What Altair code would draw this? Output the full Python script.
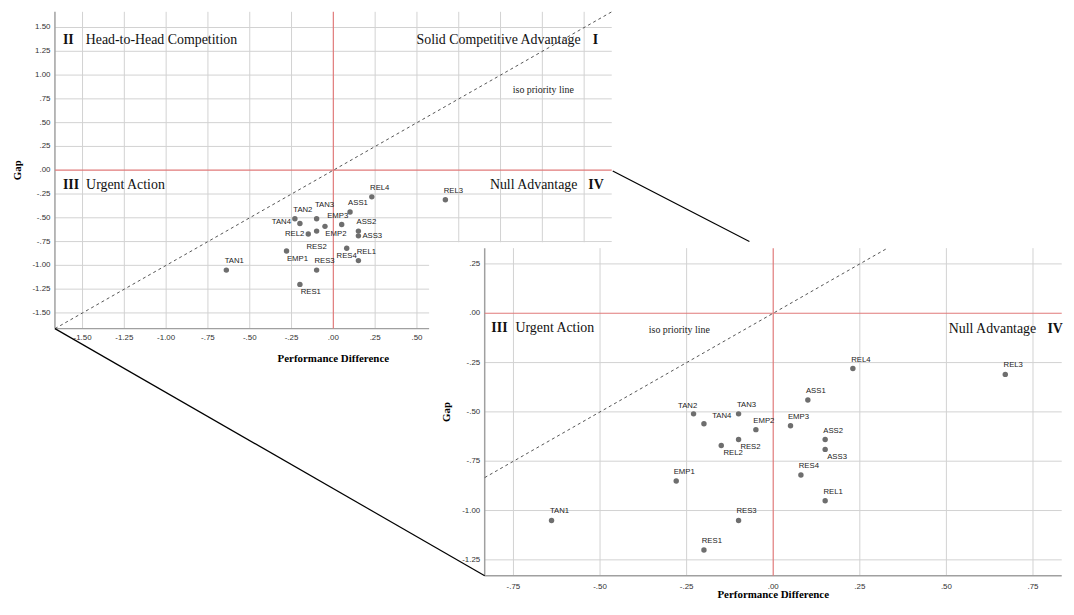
import altair as alt
import pandas as pd

# ---------------- data ----------------
names = ["TAN1", "TAN2", "TAN3", "TAN4",
         "REL1", "REL2", "REL3", "REL4",
         "RES1", "RES2", "RES3", "RES4",
         "ASS1", "ASS2", "ASS3",
         "EMP1", "EMP2", "EMP3"]
performance_difference = [-0.64, -0.23, -0.10, -0.20,
                          0.15, -0.15, 0.67, 0.23,
                          -0.20, -0.10, -0.10, 0.08,
                          0.10, 0.15, 0.15,
                          -0.28, -0.05, 0.05]
gap = [-1.05, -0.51, -0.51, -0.56,
       -0.95, -0.67, -0.31, -0.28,
       -1.20, -0.64, -1.05, -0.82,
       -0.44, -0.64, -0.69,
       -0.85, -0.59, -0.57]

main_ticks = [-1.5, -1.25, -1.0, -0.75, -0.5, -0.25, 0.0, 0.25, 0.5, 0.75, 1.0, 1.25, 1.5]
main_x_tick_labels = [-1.5, -1.25, -1.0, -0.75, -0.5, -0.25, 0.0, 0.25, 0.5]  # the rest sit under the inset
inset_x_ticks = [-0.75, -0.5, -0.25, 0.0, 0.25, 0.5, 0.75]
inset_y_ticks = [0.25, 0.0, -0.25, -0.5, -0.75, -1.0, -1.25]

x_title = "Performance Difference"
y_title = "Gap"
iso_text = "iso priority line"

df = pd.DataFrame({"name": names, "pd": performance_difference, "gap": gap})

# ---------------- layout / style ----------------
W, H = 1066, 594
GRID = "#d2d2d2"
ZERO = "#e07a7a"
AXIS = "#a0a0a0"
POINT = "#6e6e6e"
SANS = "Liberation Sans"
SERIF = "Liberation Serif"

# SPSS-like tick format: .25, -.50, 1.00, -1.25
LABEL_EXPR = ("(datum.t < 0 ? '-' : '') + (abs(datum.t) < 1 ? "
              "replace(format(abs(datum.t), '.2f'), '0.', '.') : "
              "format(abs(datum.t), '.2f'))")

placement = {
    "n": dict(dx=8, dy=-9, align="center"),
    "nn": dict(dx=8, dy=-14, align="center"),
    "nw": dict(dx=-4, dy=-8, align="center"),
    "nl": dict(dx=-6, dy=-8, align="center"),
    "nr": dict(dx=18, dy=-8, align="center"),
    "w": dict(dx=-9, dy=-1, align="right"),
    "w2": dict(dx=-4, dy=0, align="right"),
    "e": dict(dx=4, dy=0, align="left"),
    "se": dict(dx=11, dy=8, align="center"),
    "se2": dict(dx=12, dy=8, align="center"),
    "s": dict(dx=0, dy=8, align="center"),
    "s2": dict(dx=0, dy=16, align="center"),
}
main_label_pos = {"TAN1": "n", "TAN2": "n", "TAN3": "nn", "TAN4": "w",
                  "REL1": "n", "REL2": "w2", "REL3": "n", "REL4": "n",
                  "RES1": "se", "RES2": "s2", "RES3": "n", "RES4": "s",
                  "ASS1": "n", "ASS2": "n", "ASS3": "e",
                  "EMP1": "se", "EMP2": "se", "EMP3": "nw"}
inset_label_pos = {"TAN1": "n", "TAN2": "nl", "TAN3": "n", "TAN4": "nr",
                   "REL1": "n", "REL2": "se2", "REL3": "n", "REL4": "n",
                   "RES1": "n", "RES2": "se2", "RES3": "n", "RES4": "n",
                   "ASS1": "n", "ASS2": "n", "ASS3": "se2",
                   "EMP1": "n", "EMP2": "n", "EMP3": "n"}

main_cfg = dict(
    xdom=[-1.665, 1.665], ydom=[-1.665, 1.665],
    xrng=[47.3, 608.3], yrng=[320.8, 1.6],
    xticks=main_ticks, yticks=main_ticks,
    xlabels=main_x_tick_labels, ylabels=main_ticks,
    label_pos=main_label_pos,
    xlab_dy=9.5, ylab_dx=-4.5, xtitle_dy=31, ytitle_off=37.7,
    quads=[("II", "lo", 8, "hi", 28.7, "left", True),
           ("Head-to-Head Competition", "lo", 31, "hi", 28.7, "left", False),
           ("Solid Competitive Advantage", "hi", -31.3, "hi", 28.7, "right", False),
           ("I", "hi", -16.3, "hi", 28.7, "center", True),
           ("III", "lo", 8, "zero", 15.1, "left", True),
           ("Urgent Action", "lo", 31.4, "zero", 15.1, "left", False),
           ("Null Advantage", "hi", -34.6, "zero", 15.1, "right", False),
           ("IV", "hi", -15.8, "zero", 15.1, "center", True)],
    iso_at=(1.256, 0.845),
)
inset_cfg = dict(
    xdom=[-0.833, 0.833], ydom=[-1.33, 0.33],
    xrng=[480.3, 1061.7], yrng=[569.7, 239.7],
    xticks=inset_x_ticks, yticks=inset_y_ticks,
    xlabels=inset_x_ticks, ylabels=inset_y_ticks,
    label_pos=inset_label_pos,
    xlab_dy=11, ylab_dx=-4.5, xtitle_dy=20, ytitle_off=37.6,
    quads=[("III", "lo", 6.7, "zero", 15.1, "left", True),
           ("Urgent Action", "lo", 31, "zero", 15.1, "left", False),
           ("Null Advantage", "hi", -25.7, "zero", 16, "right", False),
           ("IV", "hi", -6.7, "zero", 16, "center", True)],
    iso_at=(-0.271, -0.085),
)


def panel(cfg, background=None):
    xs = alt.Scale(domain=cfg["xdom"], range=cfg["xrng"], nice=False, zero=False)
    ys = alt.Scale(domain=cfg["ydom"], range=cfg["yrng"], nice=False, zero=False)
    x0, x1 = cfg["xdom"]
    y0, y1 = cfg["ydom"]
    one = pd.DataFrame({"k": [0]})
    layers = []
    if background is not None:
        layers.append(background)

    def XD(v):
        return alt.XDatum(v, type="quantitative", scale=xs, axis=None)

    def YD(v):
        return alt.YDatum(v, type="quantitative", scale=ys, axis=None)

    # grid lines
    layers.append(alt.Chart(pd.DataFrame({"t": [t for t in cfg["xticks"] if t != 0]}))
                  .mark_rule(color=GRID, strokeWidth=1)
                  .encode(x=alt.X("t:Q", scale=xs, axis=None), y=YD(y0), y2=alt.Y2Datum(y1)))
    layers.append(alt.Chart(pd.DataFrame({"t": [t for t in cfg["yticks"] if t != 0]}))
                  .mark_rule(color=GRID, strokeWidth=1)
                  .encode(y=alt.Y("t:Q", scale=ys, axis=None), x=XD(x0), x2=alt.X2Datum(x1)))
    # axis lines
    layers.append(alt.Chart(one).mark_rule(color=AXIS, strokeWidth=1.5)
                  .encode(x=XD(x0), x2=alt.X2Datum(x1), y=YD(y0)))
    layers.append(alt.Chart(one).mark_rule(color=AXIS, strokeWidth=1.5)
                  .encode(y=YD(y0), y2=alt.Y2Datum(y1), x=XD(x0)))
    # tick labels
    layers.append(alt.Chart(pd.DataFrame({"t": cfg["xlabels"]}))
                  .transform_calculate(lab=LABEL_EXPR)
                  .mark_text(font=SANS, fontSize=8, color="#333333", baseline="middle",
                             align="center", dy=cfg["xlab_dy"])
                  .encode(x=alt.X("t:Q", scale=xs, axis=None), y=YD(y0), text="lab:N"))
    layers.append(alt.Chart(pd.DataFrame({"t": cfg["ylabels"]}))
                  .transform_calculate(lab=LABEL_EXPR)
                  .mark_text(font=SANS, fontSize=8, color="#333333", baseline="middle",
                             align="right", dx=cfg["ylab_dx"])
                  .encode(y=alt.Y("t:Q", scale=ys, axis=None), x=XD(x0), text="lab:N"))
    # axis titles
    layers.append(alt.Chart(one)
                  .mark_text(text=x_title, font=SERIF, fontSize=11, fontWeight="bold",
                             color="#000000", align="center", baseline="middle",
                             dy=cfg["xtitle_dy"])
                  .encode(x=XD((x0 + x1) / 2), y=YD(y0)))
    # rotated title: offsets act in the rotated frame, so dy moves it sideways
    layers.append(alt.Chart(one)
                  .mark_text(text=y_title, font=SERIF, fontSize=11, fontWeight="bold",
                             color="#000000", align="center", baseline="middle",
                             angle=270, dy=-cfg["ytitle_off"])
                  .encode(x=XD(x0), y=YD((y0 + y1) / 2)))
    # zero lines
    layers.append(alt.Chart(pd.DataFrame({"t": [0.0]}))
                  .mark_rule(color=ZERO, strokeWidth=1.2)
                  .encode(x=alt.X("t:Q", scale=xs, axis=None), y=YD(y0), y2=alt.Y2Datum(y1)))
    layers.append(alt.Chart(pd.DataFrame({"t": [0.0]}))
                  .mark_rule(color=ZERO, strokeWidth=1.2)
                  .encode(y=alt.Y("t:Q", scale=ys, axis=None), x=XD(x0), x2=alt.X2Datum(x1)))
    # iso priority line y = x
    lo, hi = max(x0, y0), min(x1, y1)
    layers.append(alt.Chart(one).mark_rule(color="#555555", strokeWidth=1, strokeDash=[3, 3])
                  .encode(x=XD(lo), y=YD(lo), x2=alt.X2Datum(hi), y2=alt.Y2Datum(hi)))
    # points
    layers.append(alt.Chart(df).mark_circle(size=30, color=POINT, opacity=1)
                  .encode(x=alt.X("pd:Q", scale=xs, axis=None),
                          y=alt.Y("gap:Q", scale=ys, axis=None)))
    # point labels
    codes = sorted(set(cfg["label_pos"].values()))
    for c in codes:
        members = [n for n in names if cfg["label_pos"][n] == c]
        st = placement[c]
        layers.append(alt.Chart(df)
                      .transform_filter(alt.FieldOneOfPredicate(field="name", oneOf=members))
                      .mark_text(font=SANS, fontSize=7.8, color="#222222", baseline="middle",
                                 align=st["align"], dx=st["dx"], dy=st["dy"])
                      .encode(x=alt.X("pd:Q", scale=xs, axis=None),
                              y=alt.Y("gap:Q", scale=ys, axis=None),
                              text="name:N"))
    # quadrant labels
    for txt, xa, dx, ya, dy, align, bold in cfg["quads"]:
        xv = x0 if xa == "lo" else x1
        yv = y1 if ya == "hi" else 0.0
        layers.append(alt.Chart(one)
                      .mark_text(text=txt, font=SERIF, fontSize=14, color="#111111",
                                 fontWeight="bold" if bold else "normal",
                                 align=align, baseline="middle", dx=dx, dy=dy)
                      .encode(x=XD(xv), y=YD(yv)))
    # iso priority label
    layers.append(alt.Chart(one)
                  .mark_text(text=iso_text, font=SERIF, fontSize=10, color="#222222",
                             align="center", baseline="middle")
                  .encode(x=XD(cfg["iso_at"][0]), y=YD(cfg["iso_at"][1])))
    return alt.layer(*layers)


one_row = pd.DataFrame({"k": [0]})
inset_bg = alt.Chart(one_row).mark_rect(color="white").encode(
    x=alt.value(inset_cfg["xrng"][0] - 56), x2=alt.value(W),
    y=alt.value(inset_cfg["yrng"][1] - 6), y2=alt.value(H))

main_panel = panel(main_cfg)
inset_panel = panel(inset_cfg, background=inset_bg)

# zoom connector lines (decorative)
conn1 = alt.Chart(one_row).mark_rule(color="#000000", strokeWidth=1.2).encode(
    x=alt.value(main_cfg["xrng"][0]), y=alt.value(main_cfg["yrng"][0]),
    x2=alt.value(inset_cfg["xrng"][0]), y2=alt.value(inset_cfg["yrng"][0]))
conn2 = alt.Chart(one_row).mark_rule(color="#000000", strokeWidth=1.2).encode(
    x=alt.value(main_cfg["xrng"][1] + 1), y=alt.value(162),
    x2=alt.value(747), y2=alt.value(233))

chart = (alt.layer(main_panel, inset_panel, conn1, conn2)
         .resolve_scale(x="independent", y="independent")
         .properties(width=W, height=H, padding=0,
                     autosize=alt.AutoSizeParams(type="none"),
                     background="white")
         .configure_view(stroke=None))

chart.save("out.html", embed_options={"renderer": "svg", "actions": False})
